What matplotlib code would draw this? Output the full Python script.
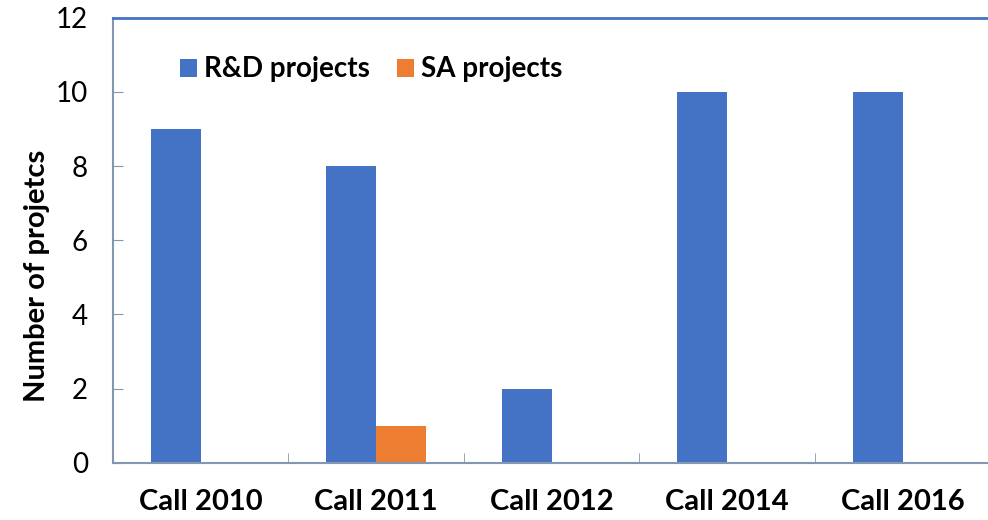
import numpy as np
import matplotlib.pyplot as plt

categories = ['Call 2010', 'Call 2011', 'Call 2012', 'Call 2014', 'Call 2016']
rd_projects = [9, 8, 2, 10, 10]
sa_projects = [0, 1, 0, 0, 0]

plt.rcParams['font.family'] = ['Lato', 'DejaVu Sans']

fig = plt.figure(figsize=(9.88, 5.2), dpi=100)
ax = fig.add_axes([0.1144, 0.11, 0.888, 0.856])

x = np.arange(len(categories))
w = 0.285
ax.bar(x - w / 2, rd_projects, w, color='#4472C4', label='R&D projects')
ax.bar(x + w / 2, sa_projects, w, color='#ED7D31', label='SA projects')

ax.set_xlim(-0.5, len(categories) - 0.5)
ax.set_ylim(0, 12)
ax.set_yticks(range(0, 13, 2))
ax.set_xticks(x)
ax.set_xticklabels(categories, fontsize=21, fontweight='bold')
ax.set_xticks(np.arange(0.5, len(categories) - 0.5, 1), minor=True)
ax.tick_params(axis='x', which='major', length=0, pad=19)
ax.tick_params(axis='x', which='minor', direction='in', length=7, color='#8497B0')
ax.tick_params(axis='y', direction='in', length=7, color='#8497B0', labelsize=20, pad=18)
# the label in the original reads "projetcs"
ax.set_ylabel('Number of projetcs', fontsize=21, fontweight='bold', labelpad=4)
ax.yaxis.label.set_y(0.42)

ax.spines['right'].set_visible(False)
ax.spines['top'].set_color('#4472C4')
ax.spines['top'].set_linewidth(2)
ax.spines['left'].set_color('#8497B0')
ax.spines['bottom'].set_color('#8497B0')
ax.spines['left'].set_linewidth(1.5)
ax.spines['bottom'].set_linewidth(1.5)

ax.legend(loc='upper left', bbox_to_anchor=(0.048, 0.969), ncol=2, frameon=False,
          prop={'size': 20, 'weight': 'bold'}, handlelength=0.6, handleheight=0.6,
          handletextpad=0.25, columnspacing=1.0)

fig.savefig('out.png', dpi=100)
